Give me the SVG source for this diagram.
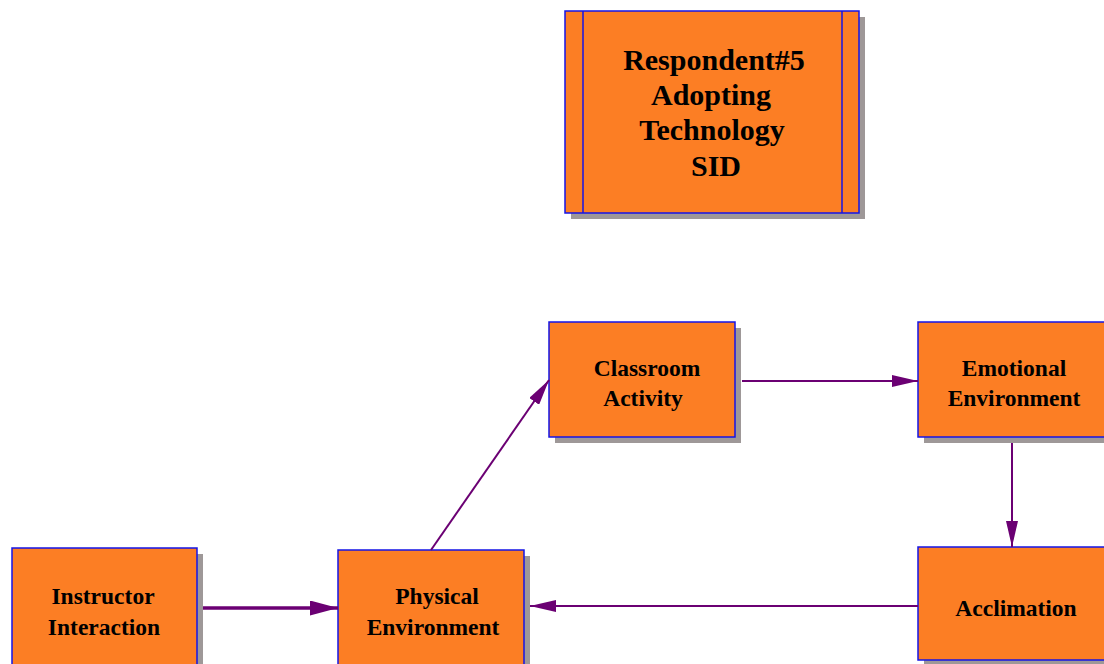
<svg xmlns="http://www.w3.org/2000/svg" width="1104" height="664" viewBox="0 0 1104 664">
  <style>
    .box { fill: #FC7E24; stroke: #1414E6; stroke-width: 1.5; }
    .shadow { fill: #9E9898; }
    .lbl { font-family: "Liberation Serif", "Times New Roman", serif; font-weight: bold; font-size: 23.5px; fill: #000; text-anchor: middle; }
    .title { font-size: 30px; }
    .edge { stroke: #6B0073; stroke-width: 2; fill: none; }
    .thick { stroke-width: 3.5; }
  </style>
  <defs>
    <marker id="arrow" viewBox="0 0 26 12" refX="26" refY="6" markerWidth="26" markerHeight="12" markerUnits="userSpaceOnUse" orient="auto">
      <path d="M0,0 L26,6 L0,12 Z" fill="#6B0073"/>
    </marker>
    <marker id="arrow-thick" viewBox="0 0 28 15" refX="28" refY="7.5" markerWidth="28" markerHeight="15" markerUnits="userSpaceOnUse" orient="auto">
      <path d="M0,0 L28,7.5 L0,15 Z" fill="#6B0073"/>
    </marker>
  </defs>

  <rect width="1104" height="664" fill="#FFFFFF"/>

  <!-- title block -->
  <g id="title">
    <rect class="shadow" x="571" y="17" width="294" height="202"/>
    <rect class="box" x="565" y="11" width="294" height="202"/>
    <line x1="583" y1="11" x2="583" y2="213" stroke="#1414E6" stroke-width="1.5"/>
    <line x1="842" y1="11" x2="842" y2="213" stroke="#1414E6" stroke-width="1.5"/>
    <text class="lbl title" x="714" y="70">Respondent#5</text>
    <text class="lbl title" x="711" y="105">Adopting</text>
    <text class="lbl title" x="712" y="140">Technology</text>
    <text class="lbl title" x="716" y="176">SID</text>
  </g>

  <g id="classroom-activity">
    <rect class="shadow" x="555" y="328" width="186" height="115"/>
    <rect class="box" x="549" y="322" width="186" height="115"/>
    <text class="lbl" x="647" y="376">Classroom</text>
    <text class="lbl" x="643" y="406">Activity</text>
  </g>

  <g id="emotional-environment">
    <rect class="shadow" x="924" y="328" width="190" height="115"/>
    <rect class="box" x="918" y="322" width="190" height="115"/>
    <text class="lbl" x="1014" y="376">Emotional</text>
    <text class="lbl" x="1014" y="406">Environment</text>
  </g>

  <g id="acclimation">
    <rect class="shadow" x="924" y="553" width="190" height="115"/>
    <rect class="box" x="918" y="547" width="190" height="113"/>
    <text class="lbl" x="1016" y="616">Acclimation</text>
  </g>

  <g id="instructor-interaction">
    <rect class="shadow" x="18" y="554" width="185" height="120"/>
    <rect class="box" x="12" y="548" width="185" height="120"/>
    <text class="lbl" x="103" y="604">Instructor</text>
    <text class="lbl" x="104" y="635">Interaction</text>
  </g>

  <g id="physical-environment">
    <rect class="shadow" x="344" y="556" width="186" height="120"/>
    <rect class="box" x="338" y="550" width="186" height="120"/>
    <text class="lbl" x="437" y="604">Physical</text>
    <text class="lbl" x="433" y="635">Environment</text>
  </g>

  <!-- connectors -->
  <g id="connectors">
    <line class="edge thick" x1="203" y1="608" x2="338" y2="608" marker-end="url(#arrow-thick)"/>
    <line class="edge" x1="431" y1="550" x2="549" y2="380" marker-end="url(#arrow)"/>
    <line class="edge" x1="742" y1="381" x2="918" y2="381" marker-end="url(#arrow)"/>
    <line class="edge" x1="1012" y1="443" x2="1012" y2="547" marker-end="url(#arrow)"/>
    <line class="edge" x1="918" y1="606" x2="530" y2="606" marker-end="url(#arrow)"/>
  </g>
</svg>
